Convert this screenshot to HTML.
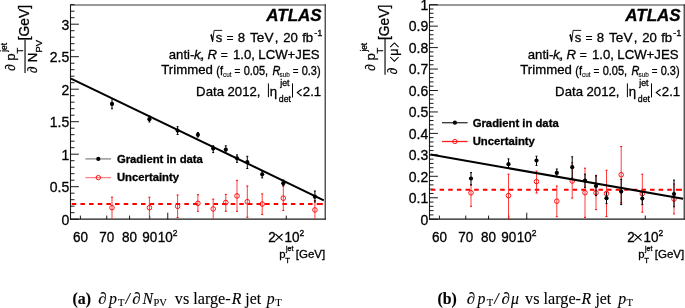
<!DOCTYPE html>
<html><head><meta charset="utf-8"><style>
html,body{margin:0;padding:0;background:#fff;width:685px;height:308px;overflow:hidden;}
svg{display:block;will-change:transform;}
text{stroke:#000;stroke-width:0.3px;}
.sm{stroke-width:0.1px;}
.cap{stroke-width:0.12px;}
</style></head><body>
<svg width="685" height="308" viewBox="0 0 685 308" font-family='"Liberation Sans", sans-serif'>
<rect width="685" height="308" fill="#fff"/>
<line x1="70.0" y1="5.0" x2="326.0" y2="5.0" stroke="#9a9a9a" stroke-width="1.8"/>
<line x1="70.5" y1="4.6" x2="70.5" y2="219.7" stroke="#1a1a1a" stroke-width="1.1"/>
<line x1="325.2" y1="4.6" x2="325.2" y2="219.7" stroke="#1a1a1a" stroke-width="1.1"/>
<line x1="70.0" y1="219.2" x2="325.7" y2="219.2" stroke="#1a1a1a" stroke-width="1.2"/>
<line x1="70.5" y1="212.70" x2="74.50" y2="212.70" stroke="#000" stroke-width="0.9"/>
<line x1="70.5" y1="206.20" x2="74.50" y2="206.20" stroke="#000" stroke-width="0.9"/>
<line x1="70.5" y1="199.70" x2="74.50" y2="199.70" stroke="#000" stroke-width="0.9"/>
<line x1="70.5" y1="193.20" x2="74.50" y2="193.20" stroke="#000" stroke-width="0.9"/>
<line x1="70.5" y1="180.20" x2="74.50" y2="180.20" stroke="#000" stroke-width="0.9"/>
<line x1="70.5" y1="173.70" x2="74.50" y2="173.70" stroke="#000" stroke-width="0.9"/>
<line x1="70.5" y1="167.20" x2="74.50" y2="167.20" stroke="#000" stroke-width="0.9"/>
<line x1="70.5" y1="160.70" x2="74.50" y2="160.70" stroke="#000" stroke-width="0.9"/>
<line x1="70.5" y1="147.70" x2="74.50" y2="147.70" stroke="#000" stroke-width="0.9"/>
<line x1="70.5" y1="141.20" x2="74.50" y2="141.20" stroke="#000" stroke-width="0.9"/>
<line x1="70.5" y1="134.70" x2="74.50" y2="134.70" stroke="#000" stroke-width="0.9"/>
<line x1="70.5" y1="128.20" x2="74.50" y2="128.20" stroke="#000" stroke-width="0.9"/>
<line x1="70.5" y1="115.20" x2="74.50" y2="115.20" stroke="#000" stroke-width="0.9"/>
<line x1="70.5" y1="108.70" x2="74.50" y2="108.70" stroke="#000" stroke-width="0.9"/>
<line x1="70.5" y1="102.20" x2="74.50" y2="102.20" stroke="#000" stroke-width="0.9"/>
<line x1="70.5" y1="95.70" x2="74.50" y2="95.70" stroke="#000" stroke-width="0.9"/>
<line x1="70.5" y1="82.70" x2="74.50" y2="82.70" stroke="#000" stroke-width="0.9"/>
<line x1="70.5" y1="76.20" x2="74.50" y2="76.20" stroke="#000" stroke-width="0.9"/>
<line x1="70.5" y1="69.70" x2="74.50" y2="69.70" stroke="#000" stroke-width="0.9"/>
<line x1="70.5" y1="63.20" x2="74.50" y2="63.20" stroke="#000" stroke-width="0.9"/>
<line x1="70.5" y1="50.20" x2="74.50" y2="50.20" stroke="#000" stroke-width="0.9"/>
<line x1="70.5" y1="43.70" x2="74.50" y2="43.70" stroke="#000" stroke-width="0.9"/>
<line x1="70.5" y1="37.20" x2="74.50" y2="37.20" stroke="#000" stroke-width="0.9"/>
<line x1="70.5" y1="30.70" x2="74.50" y2="30.70" stroke="#000" stroke-width="0.9"/>
<line x1="70.5" y1="17.70" x2="74.50" y2="17.70" stroke="#000" stroke-width="0.9"/>
<line x1="70.5" y1="11.20" x2="74.50" y2="11.20" stroke="#000" stroke-width="0.9"/>
<line x1="70.5" y1="4.70" x2="74.50" y2="4.70" stroke="#000" stroke-width="0.9"/>
<line x1="70.5" y1="219.20" x2="78.90" y2="219.20" stroke="#000" stroke-width="0.9"/>
<line x1="70.5" y1="186.70" x2="78.90" y2="186.70" stroke="#000" stroke-width="0.9"/>
<line x1="70.5" y1="154.20" x2="78.90" y2="154.20" stroke="#000" stroke-width="0.9"/>
<line x1="70.5" y1="121.70" x2="78.90" y2="121.70" stroke="#000" stroke-width="0.9"/>
<line x1="70.5" y1="89.20" x2="78.90" y2="89.20" stroke="#000" stroke-width="0.9"/>
<line x1="70.5" y1="56.70" x2="78.90" y2="56.70" stroke="#000" stroke-width="0.9"/>
<line x1="70.5" y1="24.20" x2="78.90" y2="24.20" stroke="#000" stroke-width="0.9"/>
<text transform="translate(69.20,224.50) scale(1,1.06)" font-size="14" text-anchor="end">0</text>
<text transform="translate(69.20,192.00) scale(1,1.06)" font-size="14" text-anchor="end">0.5</text>
<text transform="translate(69.20,159.50) scale(1,1.06)" font-size="14" text-anchor="end">1</text>
<text transform="translate(69.20,127.00) scale(1,1.06)" font-size="14" text-anchor="end">1.5</text>
<text transform="translate(69.20,94.50) scale(1,1.06)" font-size="14" text-anchor="end">2</text>
<text transform="translate(69.20,62.00) scale(1,1.06)" font-size="14" text-anchor="end">2.5</text>
<text transform="translate(69.20,29.50) scale(1,1.06)" font-size="14" text-anchor="end">3</text>
<line x1="80.40" y1="219.2" x2="80.40" y2="215.60" stroke="#000" stroke-width="0.9"/>
<line x1="106.76" y1="219.2" x2="106.76" y2="215.60" stroke="#000" stroke-width="0.9"/>
<line x1="129.59" y1="219.2" x2="129.59" y2="215.60" stroke="#000" stroke-width="0.9"/>
<line x1="149.73" y1="219.2" x2="149.73" y2="215.60" stroke="#000" stroke-width="0.9"/>
<line x1="286.28" y1="219.2" x2="286.28" y2="215.60" stroke="#000" stroke-width="0.9"/>
<line x1="167.75" y1="219.2" x2="167.75" y2="212.70" stroke="#000" stroke-width="0.9"/>
<text transform="translate(80.40,241.6) scale(1,1.1)" font-size="13.5" text-anchor="middle">60</text>
<text transform="translate(106.76,241.6) scale(1,1.1)" font-size="13.5" text-anchor="middle">70</text>
<text transform="translate(129.59,241.6) scale(1,1.1)" font-size="13.5" text-anchor="middle">80</text>
<text transform="translate(149.73,241.6) scale(1,1.1)" font-size="13.5" text-anchor="middle">90</text>
<text transform="translate(157.75,241.6) scale(1,1.1)" font-size="13.5" >10<tspan font-size="8.5" dy="-5.5">2</tspan></text>
<text transform="translate(268.28,241.6) scale(1,1.1)" font-size="13.5" >2<tspan dx="8.6">10</tspan><tspan font-size="8.5" dy="-5.5">2</tspan></text>
<path d="M275.38,234.0 L282.58,240.6 M275.38,240.6 L282.58,234.0" stroke="#000" stroke-width="1.05" fill="none"/>
<text x="279.20" y="257.5" font-size="11.3">p</text>
<text x="285.30" y="263.3" font-size="7.8">T</text>
<text x="286.10" y="250.6" font-size="6.9">jet</text>
<text x="295.80" y="258.1" font-size="11.5">[GeV]</text>
<path d="M71.75,204.1 H76.25 M80.41,204.1 H84.91 M89.07,204.1 H93.57 M97.73,204.1 H102.23 M106.39,204.1 H110.89 M115.05,204.1 H119.55 M123.71,204.1 H128.21 M132.37,204.1 H136.87 M141.03,204.1 H145.53 M149.69,204.1 H154.19 M158.35,204.1 H162.85 M167.01,204.1 H171.51 M175.67,204.1 H180.17 M184.33,204.1 H188.83 M192.99,204.1 H197.49 M204.90,204.1 H209.40 M213.50,204.1 H218.00 M222.10,204.1 H226.60 M230.70,204.1 H235.20 M239.30,204.1 H243.80 M247.90,204.1 H252.40 M256.50,204.1 H261.00 M265.10,204.1 H269.60 M273.70,204.1 H278.20 M282.30,204.1 H286.80 M290.90,204.1 H295.40 M299.50,204.1 H304.00 M308.10,204.1 H312.60 M316.70,204.1 H322.80" stroke="#ff0000" stroke-width="2" fill="none"/>
<line x1="112.0" y1="197.2" x2="112.0" y2="219.2" stroke="#ff1a1a" stroke-width="0.85"/>
<line x1="111.0" y1="197.2" x2="113.0" y2="197.2" stroke="#ff0000" stroke-width="1"/>
<circle cx="112.0" cy="207.7" r="2.3" fill="none" stroke="#ff0000" stroke-width="0.9"/>
<line x1="149.4" y1="197.2" x2="149.4" y2="219.2" stroke="#ff1a1a" stroke-width="0.85"/>
<line x1="148.4" y1="197.2" x2="150.4" y2="197.2" stroke="#ff0000" stroke-width="1"/>
<circle cx="149.4" cy="207.7" r="2.3" fill="none" stroke="#ff0000" stroke-width="0.9"/>
<line x1="177.6" y1="195.0" x2="177.6" y2="217.5" stroke="#ff1a1a" stroke-width="0.85"/>
<line x1="176.6" y1="217.5" x2="178.6" y2="217.5" stroke="#ff0000" stroke-width="1"/>
<line x1="176.6" y1="195.0" x2="178.6" y2="195.0" stroke="#ff0000" stroke-width="1"/>
<circle cx="177.6" cy="206.3" r="2.3" fill="none" stroke="#ff0000" stroke-width="0.9"/>
<line x1="197.9" y1="194.7" x2="197.9" y2="211.3" stroke="#ff1a1a" stroke-width="0.85"/>
<line x1="196.9" y1="211.3" x2="198.9" y2="211.3" stroke="#ff0000" stroke-width="1"/>
<line x1="196.9" y1="194.7" x2="198.9" y2="194.7" stroke="#ff0000" stroke-width="1"/>
<circle cx="197.9" cy="203.3" r="2.3" fill="none" stroke="#ff0000" stroke-width="0.9"/>
<line x1="213.2" y1="199.1" x2="213.2" y2="219.2" stroke="#ff1a1a" stroke-width="0.85"/>
<line x1="212.2" y1="199.1" x2="214.2" y2="199.1" stroke="#ff0000" stroke-width="1"/>
<circle cx="213.2" cy="208.9" r="2.3" fill="none" stroke="#ff0000" stroke-width="0.9"/>
<line x1="225.8" y1="194.4" x2="225.8" y2="211.3" stroke="#ff1a1a" stroke-width="0.85"/>
<line x1="224.8" y1="211.3" x2="226.8" y2="211.3" stroke="#ff0000" stroke-width="1"/>
<line x1="224.8" y1="194.4" x2="226.8" y2="194.4" stroke="#ff0000" stroke-width="1"/>
<circle cx="225.8" cy="202.5" r="2.3" fill="none" stroke="#ff0000" stroke-width="0.9"/>
<line x1="237.0" y1="180.3" x2="237.0" y2="211.3" stroke="#ff1a1a" stroke-width="0.85"/>
<line x1="236.0" y1="211.3" x2="238.0" y2="211.3" stroke="#ff0000" stroke-width="1"/>
<line x1="236.0" y1="180.3" x2="238.0" y2="180.3" stroke="#ff0000" stroke-width="1"/>
<circle cx="237.0" cy="195.9" r="2.3" fill="none" stroke="#ff0000" stroke-width="0.9"/>
<line x1="247.3" y1="186.0" x2="247.3" y2="217.3" stroke="#ff1a1a" stroke-width="0.85"/>
<line x1="246.3" y1="217.3" x2="248.3" y2="217.3" stroke="#ff0000" stroke-width="1"/>
<line x1="246.3" y1="186.0" x2="248.3" y2="186.0" stroke="#ff0000" stroke-width="1"/>
<circle cx="247.3" cy="201.7" r="2.3" fill="none" stroke="#ff0000" stroke-width="0.9"/>
<line x1="262.2" y1="193.9" x2="262.2" y2="214.4" stroke="#ff1a1a" stroke-width="0.85"/>
<line x1="261.2" y1="214.4" x2="263.2" y2="214.4" stroke="#ff0000" stroke-width="1"/>
<line x1="261.2" y1="193.9" x2="263.2" y2="193.9" stroke="#ff0000" stroke-width="1"/>
<circle cx="262.2" cy="204.0" r="2.3" fill="none" stroke="#ff0000" stroke-width="0.9"/>
<line x1="283.3" y1="186.0" x2="283.3" y2="210.4" stroke="#ff1a1a" stroke-width="0.85"/>
<line x1="282.3" y1="210.4" x2="284.3" y2="210.4" stroke="#ff0000" stroke-width="1"/>
<line x1="282.3" y1="186.0" x2="284.3" y2="186.0" stroke="#ff0000" stroke-width="1"/>
<circle cx="283.3" cy="198.2" r="2.3" fill="none" stroke="#ff0000" stroke-width="0.9"/>
<line x1="314.9" y1="200.5" x2="314.9" y2="219.2" stroke="#ff1a1a" stroke-width="0.85"/>
<line x1="313.9" y1="200.5" x2="315.9" y2="200.5" stroke="#ff0000" stroke-width="1"/>
<circle cx="314.9" cy="209.9" r="2.3" fill="none" stroke="#ff0000" stroke-width="0.9"/>
<line x1="71.0" y1="78.6" x2="323.8" y2="200.3" stroke="#000" stroke-width="2"/>
<line x1="112.0" y1="98.5" x2="112.0" y2="108.75" stroke="#000" stroke-width="1"/>
<line x1="111.0" y1="98.5" x2="113.0" y2="98.5" stroke="#000" stroke-width="1"/>
<line x1="111.0" y1="108.75" x2="113.0" y2="108.75" stroke="#000" stroke-width="1"/>
<circle cx="112.0" cy="103.9" r="2.1" fill="#000"/>
<line x1="149.4" y1="116.0" x2="149.4" y2="122.0" stroke="#000" stroke-width="1"/>
<line x1="148.4" y1="116.0" x2="150.4" y2="116.0" stroke="#000" stroke-width="1"/>
<line x1="148.4" y1="122.0" x2="150.4" y2="122.0" stroke="#000" stroke-width="1"/>
<circle cx="149.4" cy="119.2" r="2.1" fill="#000"/>
<line x1="177.6" y1="126.7" x2="177.6" y2="134.5" stroke="#000" stroke-width="1"/>
<line x1="176.6" y1="126.7" x2="178.6" y2="126.7" stroke="#000" stroke-width="1"/>
<line x1="176.6" y1="134.5" x2="178.6" y2="134.5" stroke="#000" stroke-width="1"/>
<circle cx="177.6" cy="130.6" r="2.1" fill="#000"/>
<line x1="197.9" y1="132.5" x2="197.9" y2="137.0" stroke="#000" stroke-width="1"/>
<line x1="196.9" y1="132.5" x2="198.9" y2="132.5" stroke="#000" stroke-width="1"/>
<line x1="196.9" y1="137.0" x2="198.9" y2="137.0" stroke="#000" stroke-width="1"/>
<circle cx="197.9" cy="134.8" r="2.1" fill="#000"/>
<line x1="213.2" y1="145.8" x2="213.2" y2="152.6" stroke="#000" stroke-width="1"/>
<line x1="212.2" y1="145.8" x2="214.2" y2="145.8" stroke="#000" stroke-width="1"/>
<line x1="212.2" y1="152.6" x2="214.2" y2="152.6" stroke="#000" stroke-width="1"/>
<circle cx="213.2" cy="148.6" r="2.1" fill="#000"/>
<line x1="225.8" y1="145.8" x2="225.8" y2="152.0" stroke="#000" stroke-width="1"/>
<line x1="224.8" y1="145.8" x2="226.8" y2="145.8" stroke="#000" stroke-width="1"/>
<line x1="224.8" y1="152.0" x2="226.8" y2="152.0" stroke="#000" stroke-width="1"/>
<circle cx="225.8" cy="149.5" r="2.1" fill="#000"/>
<line x1="237.0" y1="154.9" x2="237.0" y2="162.3" stroke="#000" stroke-width="1"/>
<line x1="236.0" y1="154.9" x2="238.0" y2="154.9" stroke="#000" stroke-width="1"/>
<line x1="236.0" y1="162.3" x2="238.0" y2="162.3" stroke="#000" stroke-width="1"/>
<circle cx="237.0" cy="158.3" r="2.1" fill="#000"/>
<line x1="247.3" y1="156.3" x2="247.3" y2="168.5" stroke="#000" stroke-width="1"/>
<line x1="246.3" y1="156.3" x2="248.3" y2="156.3" stroke="#000" stroke-width="1"/>
<line x1="246.3" y1="168.5" x2="248.3" y2="168.5" stroke="#000" stroke-width="1"/>
<circle cx="247.3" cy="162.2" r="2.1" fill="#000"/>
<line x1="262.2" y1="171.0" x2="262.2" y2="177.9" stroke="#000" stroke-width="1"/>
<line x1="261.2" y1="171.0" x2="263.2" y2="171.0" stroke="#000" stroke-width="1"/>
<line x1="261.2" y1="177.9" x2="263.2" y2="177.9" stroke="#000" stroke-width="1"/>
<circle cx="262.2" cy="174.3" r="2.1" fill="#000"/>
<line x1="283.3" y1="180.0" x2="283.3" y2="185.7" stroke="#000" stroke-width="1"/>
<line x1="282.3" y1="180.0" x2="284.3" y2="180.0" stroke="#000" stroke-width="1"/>
<line x1="282.3" y1="185.7" x2="284.3" y2="185.7" stroke="#000" stroke-width="1"/>
<circle cx="283.3" cy="183.2" r="2.1" fill="#000"/>
<line x1="314.9" y1="191.0" x2="314.9" y2="202.0" stroke="#000" stroke-width="1"/>
<line x1="313.9" y1="191.0" x2="315.9" y2="191.0" stroke="#000" stroke-width="1"/>
<line x1="313.9" y1="202.0" x2="315.9" y2="202.0" stroke="#000" stroke-width="1"/>
<circle cx="314.9" cy="196.7" r="2.1" fill="#000"/>
<line x1="85.4" y1="158.9" x2="111.0" y2="158.9" stroke="#888" stroke-width="1.3"/>
<circle cx="98.30000000000001" cy="158.9" r="2.1" fill="#000"/>
<line x1="85.4" y1="177.6" x2="111.0" y2="177.6" stroke="#ff8080" stroke-width="1.3"/>
<circle cx="98.30000000000001" cy="177.6" r="2.2" fill="none" stroke="#ff0000" stroke-width="0.9"/>
<text x="116.9" y="163.1" font-size="11.3" font-weight="bold">Gradient in data</text>
<text x="116.9" y="181.2" font-size="11.3" font-weight="bold">Uncertainty</text>
<text x="266.25" y="21.2" font-size="17" font-weight="bold" font-style="italic">ATLAS</text>
<path d="M210.90,35.2 L212.60,41.8 L214.10,30.4 L222.20,30.4" transform="translate(0,0)" fill="none" stroke="#000" stroke-width="0.9"/>
<path d="M210.60,35.6 L211.40,35.0 L212.90,40.2" fill="none" stroke="#000" stroke-width="1.3"/>
<text x="215.84" y="41.9" font-size="13">s</text>
<text x="226.41" y="41.9" font-size="12.0">=</text>
<text x="237.73" y="41.9" font-size="13.2">8</text>
<text x="250.09" y="41.9" font-size="13.6">TeV</text>
<text x="274.71" y="41.9" font-size="13.2">,</text>
<text x="283.14" y="41.9" font-size="13.2">20</text>
<text x="302.21" y="41.9" font-size="13.2">fb</text>
<text x="314.19" y="35.6" font-size="9.2">-1</text>
<text x="168.74" y="58.9" font-size="13.2">anti-</text>
<text x="194.08" y="58.9" font-size="13.2" font-style="italic">k</text>
<text x="200.22" y="61.0" font-size="5.5" class="sm">t</text>
<text x="200.41" y="58.9" font-size="13.2">,</text>
<text x="207.39" y="58.9" font-size="13.2" font-style="italic">R</text>
<text x="220.71" y="58.9" font-size="12.0">=</text>
<text x="232.99" y="58.9" font-size="13.2">1.0,</text>
<text x="258.32" y="58.9" font-size="13.2">LCW+JES</text>
<text x="161.30" y="74.2" font-size="13.2">Trimmed</text>
<text transform="translate(216.22,75.1) scale(1,1.15)" font-size="11">(f</text>
<text x="223.03" y="76.9" font-size="6.4" class="sm">cut</text>
<text transform="translate(234.42,75.1) scale(1,1.1)" font-size="9.8">=</text>
<text transform="translate(243.67,75.1) scale(1,1.15)" font-size="11">0.05,</text>
<text transform="translate(272.56,75.1) scale(1,1.15)" font-size="11" font-style="italic">R</text>
<text x="279.52" y="76.9" font-size="6.4" class="sm">sub</text>
<text transform="translate(292.82,75.1) scale(1,1.1)" font-size="9.8">=</text>
<text transform="translate(301.67,75.1) scale(1,1.15)" font-size="11">0.3)</text>
<text x="196.12" y="95.8" font-size="13.2">Data</text>
<text x="227.54" y="95.8" font-size="13.2">2012,</text>
<line x1="268.40" y1="83.4" x2="268.40" y2="97.2" stroke="#000" stroke-width="1"/>
<text x="269.72" y="95.8" font-size="13.2">η</text>
<text x="280.21" y="85.5" font-size="8.8">jet</text>
<text x="278.83" y="102.0" font-size="8.8">det</text>
<line x1="292.50" y1="83.4" x2="292.50" y2="97.5" stroke="#000" stroke-width="1"/>
<path d="M301.60,89.2 L297.30,92.6 L301.60,96.0" fill="none" stroke="#000" stroke-width="1.15"/>
<text x="302.84" y="95.8" font-size="13.2">2.1</text>
<line x1="429.0" y1="5.0" x2="685.0" y2="5.0" stroke="#9a9a9a" stroke-width="1.8"/>
<line x1="429.5" y1="4.6" x2="429.5" y2="219.7" stroke="#1a1a1a" stroke-width="1.1"/>
<line x1="684.2" y1="4.6" x2="684.2" y2="219.7" stroke="#1a1a1a" stroke-width="1.1"/>
<line x1="429.0" y1="219.2" x2="684.7" y2="219.2" stroke="#1a1a1a" stroke-width="1.2"/>
<line x1="429.5" y1="214.91" x2="433.50" y2="214.91" stroke="#000" stroke-width="0.9"/>
<line x1="429.5" y1="210.62" x2="433.50" y2="210.62" stroke="#000" stroke-width="0.9"/>
<line x1="429.5" y1="206.33" x2="433.50" y2="206.33" stroke="#000" stroke-width="0.9"/>
<line x1="429.5" y1="202.04" x2="433.50" y2="202.04" stroke="#000" stroke-width="0.9"/>
<line x1="429.5" y1="193.46" x2="433.50" y2="193.46" stroke="#000" stroke-width="0.9"/>
<line x1="429.5" y1="189.17" x2="433.50" y2="189.17" stroke="#000" stroke-width="0.9"/>
<line x1="429.5" y1="184.88" x2="433.50" y2="184.88" stroke="#000" stroke-width="0.9"/>
<line x1="429.5" y1="180.59" x2="433.50" y2="180.59" stroke="#000" stroke-width="0.9"/>
<line x1="429.5" y1="172.01" x2="433.50" y2="172.01" stroke="#000" stroke-width="0.9"/>
<line x1="429.5" y1="167.72" x2="433.50" y2="167.72" stroke="#000" stroke-width="0.9"/>
<line x1="429.5" y1="163.43" x2="433.50" y2="163.43" stroke="#000" stroke-width="0.9"/>
<line x1="429.5" y1="159.14" x2="433.50" y2="159.14" stroke="#000" stroke-width="0.9"/>
<line x1="429.5" y1="150.56" x2="433.50" y2="150.56" stroke="#000" stroke-width="0.9"/>
<line x1="429.5" y1="146.27" x2="433.50" y2="146.27" stroke="#000" stroke-width="0.9"/>
<line x1="429.5" y1="141.98" x2="433.50" y2="141.98" stroke="#000" stroke-width="0.9"/>
<line x1="429.5" y1="137.69" x2="433.50" y2="137.69" stroke="#000" stroke-width="0.9"/>
<line x1="429.5" y1="129.11" x2="433.50" y2="129.11" stroke="#000" stroke-width="0.9"/>
<line x1="429.5" y1="124.82" x2="433.50" y2="124.82" stroke="#000" stroke-width="0.9"/>
<line x1="429.5" y1="120.53" x2="433.50" y2="120.53" stroke="#000" stroke-width="0.9"/>
<line x1="429.5" y1="116.24" x2="433.50" y2="116.24" stroke="#000" stroke-width="0.9"/>
<line x1="429.5" y1="107.66" x2="433.50" y2="107.66" stroke="#000" stroke-width="0.9"/>
<line x1="429.5" y1="103.37" x2="433.50" y2="103.37" stroke="#000" stroke-width="0.9"/>
<line x1="429.5" y1="99.08" x2="433.50" y2="99.08" stroke="#000" stroke-width="0.9"/>
<line x1="429.5" y1="94.79" x2="433.50" y2="94.79" stroke="#000" stroke-width="0.9"/>
<line x1="429.5" y1="86.21" x2="433.50" y2="86.21" stroke="#000" stroke-width="0.9"/>
<line x1="429.5" y1="81.92" x2="433.50" y2="81.92" stroke="#000" stroke-width="0.9"/>
<line x1="429.5" y1="77.63" x2="433.50" y2="77.63" stroke="#000" stroke-width="0.9"/>
<line x1="429.5" y1="73.34" x2="433.50" y2="73.34" stroke="#000" stroke-width="0.9"/>
<line x1="429.5" y1="64.76" x2="433.50" y2="64.76" stroke="#000" stroke-width="0.9"/>
<line x1="429.5" y1="60.47" x2="433.50" y2="60.47" stroke="#000" stroke-width="0.9"/>
<line x1="429.5" y1="56.18" x2="433.50" y2="56.18" stroke="#000" stroke-width="0.9"/>
<line x1="429.5" y1="51.89" x2="433.50" y2="51.89" stroke="#000" stroke-width="0.9"/>
<line x1="429.5" y1="43.31" x2="433.50" y2="43.31" stroke="#000" stroke-width="0.9"/>
<line x1="429.5" y1="39.02" x2="433.50" y2="39.02" stroke="#000" stroke-width="0.9"/>
<line x1="429.5" y1="34.73" x2="433.50" y2="34.73" stroke="#000" stroke-width="0.9"/>
<line x1="429.5" y1="30.44" x2="433.50" y2="30.44" stroke="#000" stroke-width="0.9"/>
<line x1="429.5" y1="21.86" x2="433.50" y2="21.86" stroke="#000" stroke-width="0.9"/>
<line x1="429.5" y1="17.57" x2="433.50" y2="17.57" stroke="#000" stroke-width="0.9"/>
<line x1="429.5" y1="13.28" x2="433.50" y2="13.28" stroke="#000" stroke-width="0.9"/>
<line x1="429.5" y1="8.99" x2="433.50" y2="8.99" stroke="#000" stroke-width="0.9"/>
<line x1="429.5" y1="219.20" x2="437.90" y2="219.20" stroke="#000" stroke-width="0.9"/>
<line x1="429.5" y1="197.75" x2="437.90" y2="197.75" stroke="#000" stroke-width="0.9"/>
<line x1="429.5" y1="176.30" x2="437.90" y2="176.30" stroke="#000" stroke-width="0.9"/>
<line x1="429.5" y1="154.85" x2="437.90" y2="154.85" stroke="#000" stroke-width="0.9"/>
<line x1="429.5" y1="133.40" x2="437.90" y2="133.40" stroke="#000" stroke-width="0.9"/>
<line x1="429.5" y1="111.95" x2="437.90" y2="111.95" stroke="#000" stroke-width="0.9"/>
<line x1="429.5" y1="90.50" x2="437.90" y2="90.50" stroke="#000" stroke-width="0.9"/>
<line x1="429.5" y1="69.05" x2="437.90" y2="69.05" stroke="#000" stroke-width="0.9"/>
<line x1="429.5" y1="47.60" x2="437.90" y2="47.60" stroke="#000" stroke-width="0.9"/>
<line x1="429.5" y1="26.15" x2="437.90" y2="26.15" stroke="#000" stroke-width="0.9"/>
<line x1="429.5" y1="4.70" x2="437.90" y2="4.70" stroke="#000" stroke-width="0.9"/>
<text transform="translate(428.20,224.50) scale(1,1.06)" font-size="14" text-anchor="end">0</text>
<text transform="translate(428.20,203.05) scale(1,1.06)" font-size="14" text-anchor="end">0.1</text>
<text transform="translate(428.20,181.60) scale(1,1.06)" font-size="14" text-anchor="end">0.2</text>
<text transform="translate(428.20,160.15) scale(1,1.06)" font-size="14" text-anchor="end">0.3</text>
<text transform="translate(428.20,138.70) scale(1,1.06)" font-size="14" text-anchor="end">0.4</text>
<text transform="translate(428.20,117.25) scale(1,1.06)" font-size="14" text-anchor="end">0.5</text>
<text transform="translate(428.20,95.80) scale(1,1.06)" font-size="14" text-anchor="end">0.6</text>
<text transform="translate(428.20,74.35) scale(1,1.06)" font-size="14" text-anchor="end">0.7</text>
<text transform="translate(428.20,52.90) scale(1,1.06)" font-size="14" text-anchor="end">0.8</text>
<text transform="translate(428.20,31.45) scale(1,1.06)" font-size="14" text-anchor="end">0.9</text>
<text transform="translate(428.20,10.00) scale(1,1.06)" font-size="14" text-anchor="end">1</text>
<line x1="439.40" y1="219.2" x2="439.40" y2="215.60" stroke="#000" stroke-width="0.9"/>
<line x1="465.76" y1="219.2" x2="465.76" y2="215.60" stroke="#000" stroke-width="0.9"/>
<line x1="488.59" y1="219.2" x2="488.59" y2="215.60" stroke="#000" stroke-width="0.9"/>
<line x1="508.73" y1="219.2" x2="508.73" y2="215.60" stroke="#000" stroke-width="0.9"/>
<line x1="645.28" y1="219.2" x2="645.28" y2="215.60" stroke="#000" stroke-width="0.9"/>
<line x1="526.75" y1="219.2" x2="526.75" y2="212.70" stroke="#000" stroke-width="0.9"/>
<text transform="translate(439.40,241.6) scale(1,1.1)" font-size="13.5" text-anchor="middle">60</text>
<text transform="translate(465.76,241.6) scale(1,1.1)" font-size="13.5" text-anchor="middle">70</text>
<text transform="translate(488.59,241.6) scale(1,1.1)" font-size="13.5" text-anchor="middle">80</text>
<text transform="translate(508.73,241.6) scale(1,1.1)" font-size="13.5" text-anchor="middle">90</text>
<text transform="translate(516.75,241.6) scale(1,1.1)" font-size="13.5" >10<tspan font-size="8.5" dy="-5.5">2</tspan></text>
<text transform="translate(627.28,241.6) scale(1,1.1)" font-size="13.5" >2<tspan dx="8.6">10</tspan><tspan font-size="8.5" dy="-5.5">2</tspan></text>
<path d="M634.38,234.0 L641.58,240.6 M634.38,240.6 L641.58,234.0" stroke="#000" stroke-width="1.05" fill="none"/>
<text x="638.20" y="257.5" font-size="11.3">p</text>
<text x="644.30" y="263.3" font-size="7.8">T</text>
<text x="645.10" y="250.6" font-size="6.9">jet</text>
<text x="654.80" y="258.1" font-size="11.5">[GeV]</text>
<path d="M430.90,189.7 H435.40 M439.56,189.7 H444.06 M448.22,189.7 H452.72 M456.88,189.7 H461.38 M465.54,189.7 H470.04 M474.20,189.7 H478.70 M482.86,189.7 H487.36 M491.52,189.7 H496.02 M500.18,189.7 H504.68 M508.84,189.7 H513.34 M517.50,189.7 H522.00 M526.16,189.7 H530.66 M534.82,189.7 H539.32 M543.48,189.7 H547.98 M552.14,189.7 H556.64 M564.05,189.7 H568.55 M572.65,189.7 H577.15 M581.25,189.7 H585.75 M589.85,189.7 H594.35 M598.45,189.7 H602.95 M607.05,189.7 H611.55 M615.65,189.7 H620.15 M624.25,189.7 H628.75 M632.85,189.7 H637.35 M641.45,189.7 H645.95 M650.05,189.7 H654.55 M658.65,189.7 H663.15 M667.25,189.7 H671.75 M675.85,189.7 H681.95" stroke="#ff0000" stroke-width="2" fill="none"/>
<line x1="471.0" y1="185.2" x2="471.0" y2="206.3" stroke="#ff1a1a" stroke-width="0.85"/>
<line x1="470.0" y1="206.3" x2="472.0" y2="206.3" stroke="#ff0000" stroke-width="1"/>
<line x1="470.0" y1="185.2" x2="472.0" y2="185.2" stroke="#ff0000" stroke-width="1"/>
<circle cx="471.0" cy="192.8" r="2.3" fill="none" stroke="#ff0000" stroke-width="0.9"/>
<line x1="508.5" y1="174.2" x2="508.5" y2="219.2" stroke="#ff1a1a" stroke-width="0.85"/>
<line x1="507.5" y1="174.2" x2="509.5" y2="174.2" stroke="#ff0000" stroke-width="1"/>
<circle cx="508.5" cy="195.6" r="2.3" fill="none" stroke="#ff0000" stroke-width="0.9"/>
<line x1="536.5" y1="171.1" x2="536.5" y2="193.0" stroke="#ff1a1a" stroke-width="0.85"/>
<line x1="535.5" y1="193.0" x2="537.5" y2="193.0" stroke="#ff0000" stroke-width="1"/>
<line x1="535.5" y1="171.1" x2="537.5" y2="171.1" stroke="#ff0000" stroke-width="1"/>
<circle cx="536.5" cy="181.6" r="2.3" fill="none" stroke="#ff0000" stroke-width="0.9"/>
<line x1="556.8" y1="186.0" x2="556.8" y2="216.7" stroke="#ff1a1a" stroke-width="0.85"/>
<line x1="555.8" y1="216.7" x2="557.8" y2="216.7" stroke="#ff0000" stroke-width="1"/>
<line x1="555.8" y1="186.0" x2="557.8" y2="186.0" stroke="#ff0000" stroke-width="1"/>
<circle cx="556.8" cy="201.2" r="2.3" fill="none" stroke="#ff0000" stroke-width="0.9"/>
<line x1="572.2" y1="162.7" x2="572.2" y2="198.1" stroke="#ff1a1a" stroke-width="0.85"/>
<line x1="571.2" y1="198.1" x2="573.2" y2="198.1" stroke="#ff0000" stroke-width="1"/>
<line x1="571.2" y1="162.7" x2="573.2" y2="162.7" stroke="#ff0000" stroke-width="1"/>
<circle cx="572.2" cy="181.0" r="2.3" fill="none" stroke="#ff0000" stroke-width="0.9"/>
<line x1="585.0" y1="168.2" x2="585.0" y2="217.4" stroke="#ff1a1a" stroke-width="0.85"/>
<line x1="584.0" y1="217.4" x2="586.0" y2="217.4" stroke="#ff0000" stroke-width="1"/>
<line x1="584.0" y1="168.2" x2="586.0" y2="168.2" stroke="#ff0000" stroke-width="1"/>
<circle cx="585.0" cy="192.7" r="2.3" fill="none" stroke="#ff0000" stroke-width="0.9"/>
<line x1="596.0" y1="175.3" x2="596.0" y2="209.6" stroke="#ff1a1a" stroke-width="0.85"/>
<line x1="595.0" y1="209.6" x2="597.0" y2="209.6" stroke="#ff0000" stroke-width="1"/>
<line x1="595.0" y1="175.3" x2="597.0" y2="175.3" stroke="#ff0000" stroke-width="1"/>
<circle cx="596.0" cy="192.8" r="2.3" fill="none" stroke="#ff0000" stroke-width="0.9"/>
<line x1="606.5" y1="170.2" x2="606.5" y2="216.5" stroke="#ff1a1a" stroke-width="0.85"/>
<line x1="605.5" y1="216.5" x2="607.5" y2="216.5" stroke="#ff0000" stroke-width="1"/>
<line x1="605.5" y1="170.2" x2="607.5" y2="170.2" stroke="#ff0000" stroke-width="1"/>
<circle cx="606.5" cy="193.4" r="2.3" fill="none" stroke="#ff0000" stroke-width="0.9"/>
<line x1="621.2" y1="146.5" x2="621.2" y2="203.0" stroke="#ff1a1a" stroke-width="0.85"/>
<line x1="620.2" y1="203.0" x2="622.2" y2="203.0" stroke="#ff0000" stroke-width="1"/>
<line x1="620.2" y1="146.5" x2="622.2" y2="146.5" stroke="#ff0000" stroke-width="1"/>
<circle cx="621.2" cy="174.7" r="2.3" fill="none" stroke="#ff0000" stroke-width="0.9"/>
<line x1="642.3" y1="174.2" x2="642.3" y2="212.2" stroke="#ff1a1a" stroke-width="0.85"/>
<line x1="641.3" y1="212.2" x2="643.3" y2="212.2" stroke="#ff0000" stroke-width="1"/>
<line x1="641.3" y1="174.2" x2="643.3" y2="174.2" stroke="#ff0000" stroke-width="1"/>
<circle cx="642.3" cy="193.6" r="2.3" fill="none" stroke="#ff0000" stroke-width="0.9"/>
<line x1="674.0" y1="184.0" x2="674.0" y2="213.9" stroke="#ff1a1a" stroke-width="0.85"/>
<line x1="673.0" y1="213.9" x2="675.0" y2="213.9" stroke="#ff0000" stroke-width="1"/>
<line x1="673.0" y1="184.0" x2="675.0" y2="184.0" stroke="#ff0000" stroke-width="1"/>
<circle cx="674.0" cy="199.0" r="2.3" fill="none" stroke="#ff0000" stroke-width="0.9"/>
<line x1="430.5" y1="154.6" x2="683.1" y2="198.7" stroke="#000" stroke-width="2"/>
<line x1="471.0" y1="172.6" x2="471.0" y2="184.8" stroke="#000" stroke-width="1"/>
<line x1="470.0" y1="172.6" x2="472.0" y2="172.6" stroke="#000" stroke-width="1"/>
<line x1="470.0" y1="184.8" x2="472.0" y2="184.8" stroke="#000" stroke-width="1"/>
<circle cx="471.0" cy="178.5" r="2.1" fill="#000"/>
<line x1="508.5" y1="158.9" x2="508.5" y2="168.2" stroke="#000" stroke-width="1"/>
<line x1="507.5" y1="158.9" x2="509.5" y2="158.9" stroke="#000" stroke-width="1"/>
<line x1="507.5" y1="168.2" x2="509.5" y2="168.2" stroke="#000" stroke-width="1"/>
<circle cx="508.5" cy="164.2" r="2.1" fill="#000"/>
<line x1="536.5" y1="156.2" x2="536.5" y2="165.4" stroke="#000" stroke-width="1"/>
<line x1="535.5" y1="156.2" x2="537.5" y2="156.2" stroke="#000" stroke-width="1"/>
<line x1="535.5" y1="165.4" x2="537.5" y2="165.4" stroke="#000" stroke-width="1"/>
<circle cx="536.5" cy="160.6" r="2.1" fill="#000"/>
<line x1="556.8" y1="169.0" x2="556.8" y2="176.5" stroke="#000" stroke-width="1"/>
<line x1="555.8" y1="169.0" x2="557.8" y2="169.0" stroke="#000" stroke-width="1"/>
<line x1="555.8" y1="176.5" x2="557.8" y2="176.5" stroke="#000" stroke-width="1"/>
<circle cx="556.8" cy="172.9" r="2.1" fill="#000"/>
<line x1="572.2" y1="156.8" x2="572.2" y2="178.0" stroke="#000" stroke-width="1"/>
<line x1="571.2" y1="156.8" x2="573.2" y2="156.8" stroke="#000" stroke-width="1"/>
<line x1="571.2" y1="178.0" x2="573.2" y2="178.0" stroke="#000" stroke-width="1"/>
<circle cx="572.2" cy="167.2" r="2.1" fill="#000"/>
<line x1="585.0" y1="174.2" x2="585.0" y2="187.3" stroke="#000" stroke-width="1"/>
<line x1="584.0" y1="174.2" x2="586.0" y2="174.2" stroke="#000" stroke-width="1"/>
<line x1="584.0" y1="187.3" x2="586.0" y2="187.3" stroke="#000" stroke-width="1"/>
<circle cx="585.0" cy="180.5" r="2.1" fill="#000"/>
<line x1="596.0" y1="175.9" x2="596.0" y2="195.6" stroke="#000" stroke-width="1"/>
<line x1="595.0" y1="175.9" x2="597.0" y2="175.9" stroke="#000" stroke-width="1"/>
<line x1="595.0" y1="195.6" x2="597.0" y2="195.6" stroke="#000" stroke-width="1"/>
<circle cx="596.0" cy="185.9" r="2.1" fill="#000"/>
<line x1="606.5" y1="192.8" x2="606.5" y2="203.6" stroke="#000" stroke-width="1"/>
<line x1="605.5" y1="192.8" x2="607.5" y2="192.8" stroke="#000" stroke-width="1"/>
<line x1="605.5" y1="203.6" x2="607.5" y2="203.6" stroke="#000" stroke-width="1"/>
<circle cx="606.5" cy="198.2" r="2.1" fill="#000"/>
<line x1="621.2" y1="179.3" x2="621.2" y2="204.6" stroke="#000" stroke-width="1"/>
<line x1="620.2" y1="179.3" x2="622.2" y2="179.3" stroke="#000" stroke-width="1"/>
<line x1="620.2" y1="204.6" x2="622.2" y2="204.6" stroke="#000" stroke-width="1"/>
<circle cx="621.2" cy="191.6" r="2.1" fill="#000"/>
<line x1="642.3" y1="192.8" x2="642.3" y2="204.6" stroke="#000" stroke-width="1"/>
<line x1="641.3" y1="192.8" x2="643.3" y2="192.8" stroke="#000" stroke-width="1"/>
<line x1="641.3" y1="204.6" x2="643.3" y2="204.6" stroke="#000" stroke-width="1"/>
<circle cx="642.3" cy="198.5" r="2.1" fill="#000"/>
<line x1="674.0" y1="180.1" x2="674.0" y2="206.8" stroke="#000" stroke-width="1"/>
<line x1="673.0" y1="180.1" x2="675.0" y2="180.1" stroke="#000" stroke-width="1"/>
<line x1="673.0" y1="206.8" x2="675.0" y2="206.8" stroke="#000" stroke-width="1"/>
<circle cx="674.0" cy="194.0" r="2.1" fill="#000"/>
<line x1="442.0" y1="122.7" x2="467.6" y2="122.7" stroke="#333" stroke-width="1.3"/>
<circle cx="454.9" cy="122.7" r="2.1" fill="#000"/>
<line x1="442.0" y1="141.5" x2="467.6" y2="141.5" stroke="#ff2020" stroke-width="1.3"/>
<circle cx="454.9" cy="141.5" r="2.2" fill="none" stroke="#ff0000" stroke-width="0.9"/>
<text x="472.7" y="126.9" font-size="11.3" font-weight="bold">Gradient in data</text>
<text x="472.7" y="145.1" font-size="11.3" font-weight="bold">Uncertainty</text>
<text x="625.25" y="21.2" font-size="17" font-weight="bold" font-style="italic">ATLAS</text>
<path d="M569.90,35.2 L571.60,41.8 L573.10,30.4 L581.20,30.4" transform="translate(0,0)" fill="none" stroke="#000" stroke-width="0.9"/>
<path d="M569.60,35.6 L570.40,35.0 L571.90,40.2" fill="none" stroke="#000" stroke-width="1.3"/>
<text x="574.84" y="41.9" font-size="13">s</text>
<text x="585.41" y="41.9" font-size="12.0">=</text>
<text x="596.73" y="41.9" font-size="13.2">8</text>
<text x="609.09" y="41.9" font-size="13.6">TeV</text>
<text x="633.71" y="41.9" font-size="13.2">,</text>
<text x="642.14" y="41.9" font-size="13.2">20</text>
<text x="661.21" y="41.9" font-size="13.2">fb</text>
<text x="673.19" y="35.6" font-size="9.2">-1</text>
<text x="527.74" y="58.9" font-size="13.2">anti-</text>
<text x="553.08" y="58.9" font-size="13.2" font-style="italic">k</text>
<text x="559.22" y="61.0" font-size="5.5" class="sm">t</text>
<text x="559.41" y="58.9" font-size="13.2">,</text>
<text x="566.39" y="58.9" font-size="13.2" font-style="italic">R</text>
<text x="579.71" y="58.9" font-size="12.0">=</text>
<text x="591.99" y="58.9" font-size="13.2">1.0,</text>
<text x="617.32" y="58.9" font-size="13.2">LCW+JES</text>
<text x="520.30" y="74.2" font-size="13.2">Trimmed</text>
<text transform="translate(575.22,75.1) scale(1,1.15)" font-size="11">(f</text>
<text x="582.03" y="76.9" font-size="6.4" class="sm">cut</text>
<text transform="translate(593.42,75.1) scale(1,1.1)" font-size="9.8">=</text>
<text transform="translate(602.67,75.1) scale(1,1.15)" font-size="11">0.05,</text>
<text transform="translate(631.56,75.1) scale(1,1.15)" font-size="11" font-style="italic">R</text>
<text x="638.52" y="76.9" font-size="6.4" class="sm">sub</text>
<text transform="translate(651.82,75.1) scale(1,1.1)" font-size="9.8">=</text>
<text transform="translate(660.67,75.1) scale(1,1.15)" font-size="11">0.3)</text>
<text x="555.12" y="95.8" font-size="13.2">Data</text>
<text x="586.54" y="95.8" font-size="13.2">2012,</text>
<line x1="627.40" y1="83.4" x2="627.40" y2="97.2" stroke="#000" stroke-width="1"/>
<text x="628.72" y="95.8" font-size="13.2">η</text>
<text x="639.21" y="85.5" font-size="8.8">jet</text>
<text x="637.83" y="102.0" font-size="8.8">det</text>
<line x1="651.50" y1="83.4" x2="651.50" y2="97.5" stroke="#000" stroke-width="1"/>
<path d="M660.60,89.2 L656.30,92.6 L660.60,96.0" fill="none" stroke="#000" stroke-width="1.15"/>
<text x="661.84" y="95.8" font-size="13.2">2.1</text>
<g transform="translate(24.9,72.3) rotate(-90)">
<line x1="-0.8" y1="0.15" x2="32.6" y2="0.15" stroke="#555" stroke-width="1.7"/>
<text x="1.2" y="-9.6" font-size="14" class="sm">∂</text>
<text x="11.6" y="-10.0" font-size="13.3" >p</text>
<text x="18.8" y="-2.3" font-size="9.5" >T</text>
<text x="20.5" y="-17.9" font-size="8.3" >jet</text>
<text x="-1.0" y="12.5" font-size="13.7" class="sm">∂</text>
<text x="10.0" y="12.5" font-size="13.2" >N</text>
<text x="19.9" y="17.3" font-size="9.3" >PV</text>
<text x="32.0" y="4.3" font-size="13.8" >[GeV]</text>
</g>
<g transform="translate(384.9,74.0) rotate(-90)">
<line x1="-0.8" y1="0.15" x2="35.2" y2="0.15" stroke="#555" stroke-width="1.7"/>
<text x="3.1" y="-9.6" font-size="14" class="sm">∂</text>
<text x="13.5" y="-10.0" font-size="13.3" >p</text>
<text x="20.5" y="-2.3" font-size="9.5" >T</text>
<text x="22.4" y="-17.9" font-size="8.3" >jet</text>
<text x="-0.5" y="12.5" font-size="13.7" class="sm">∂</text>
<text x="18.35" y="13.1" font-size="12.6" >μ</text>
<path d="M17.0,5.3 L12.8,9.5 L17.0,13.7 M26.9,5.3 L31.1,9.5 L26.9,13.7" fill="none" stroke="#000" stroke-width="1.05"/>
<text x="34.0" y="4.5" font-size="13.8" >[GeV]</text>
</g>
<text x="72.60" y="303.9" font-family='"Liberation Serif", serif' font-size="15.8" class="cap" font-weight="bold">(a)</text>
<text x="98.30" y="303.9" font-family='"Liberation Serif", serif' font-size="16.6" class="cap" font-style="italic">∂</text>
<text x="108.90" y="303.9" font-family='"Liberation Serif", serif' font-size="15.8" class="cap" font-style="italic">p</text>
<text x="117.88" y="305.5" font-family='"Liberation Serif", serif' font-size="10.5" class="cap" >T</text>
<text x="125.40" y="303.9" font-family='"Liberation Serif", serif' font-size="15.8" class="cap" font-style="italic">/</text>
<text x="132.30" y="303.9" font-family='"Liberation Serif", serif' font-size="16.6" class="cap" font-style="italic">∂</text>
<text x="142.60" y="303.9" font-family='"Liberation Serif", serif' font-size="15.8" class="cap" font-style="italic">N</text>
<text x="153.48" y="305.5" font-family='"Liberation Serif", serif' font-size="10.5" class="cap" >PV</text>
<text x="174.80" y="303.9" font-family='"Liberation Serif", serif' font-size="16.2" class="cap" >vs large-</text>
<text x="231.70" y="303.9" font-family='"Liberation Serif", serif' font-size="15.8" class="cap" font-style="italic">R</text>
<text x="245.26" y="303.9" font-family='"Liberation Serif", serif' font-size="15.8" class="cap" >jet</text>
<text x="266.73" y="303.9" font-family='"Liberation Serif", serif' font-size="15.8" class="cap" font-style="italic">p</text>
<text x="275.21" y="305.5" font-family='"Liberation Serif", serif' font-size="10.5" class="cap" >T</text>
<text x="437.50" y="303.9" font-family='"Liberation Serif", serif' font-size="15.8" class="cap" font-weight="bold">(b)</text>
<text x="466.80" y="303.9" font-family='"Liberation Serif", serif' font-size="16.6" class="cap" font-style="italic">∂</text>
<text x="477.40" y="303.9" font-family='"Liberation Serif", serif' font-size="15.8" class="cap" font-style="italic">p</text>
<text x="486.79" y="305.5" font-family='"Liberation Serif", serif' font-size="10.5" class="cap" >T</text>
<text x="494.30" y="303.9" font-family='"Liberation Serif", serif' font-size="15.8" class="cap" font-style="italic">/</text>
<text x="501.40" y="303.9" font-family='"Liberation Serif", serif' font-size="16.6" class="cap" font-style="italic">∂</text>
<text x="511.10" y="303.9" font-family='"Liberation Serif", serif' font-size="15.8" class="cap" font-style="italic">μ</text>
<text x="525.10" y="303.9" font-family='"Liberation Serif", serif' font-size="16.2" class="cap" >vs large-</text>
<text x="581.60" y="303.9" font-family='"Liberation Serif", serif' font-size="15.8" class="cap" font-style="italic">R</text>
<text x="595.46" y="303.9" font-family='"Liberation Serif", serif' font-size="15.8" class="cap" >jet</text>
<text x="618.13" y="303.9" font-family='"Liberation Serif", serif' font-size="15.8" class="cap" font-style="italic">p</text>
<text x="626.61" y="305.5" font-family='"Liberation Serif", serif' font-size="10.5" class="cap" >T</text>
</svg>
</body></html>
